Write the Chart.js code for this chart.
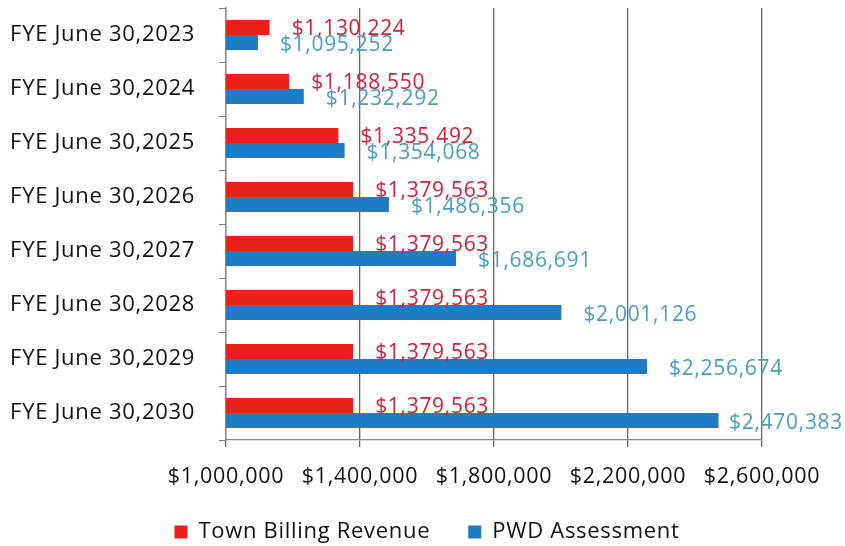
<!DOCTYPE html>
<html>
<head>
<meta charset="utf-8">
<script src="https://cdn.jsdelivr.net/npm/chart.js@4"></script>
<style>
  html, body { margin: 0; padding: 0; background: #fff; }
  #wrap { width: 845px; height: 546px; }
</style>
</head>
<body>
<div id="wrap"><canvas id="revChart"></canvas></div>
<script>
var years = ['FYE June 30,2023', 'FYE June 30,2024', 'FYE June 30,2025', 'FYE June 30,2026',
             'FYE June 30,2027', 'FYE June 30,2028', 'FYE June 30,2029', 'FYE June 30,2030'];
var townBilling = [1130224, 1188550, 1335492, 1379563, 1379563, 1379563, 1379563, 1379563];
var pwdAssessment = [1095252, 1232292, 1354068, 1486356, 1686691, 2001126, 2256674, 2470383];
var xTicks = [1000000, 1400000, 1800000, 2200000, 2600000];

var FONT = '"Open Sans", sans-serif';
var SPACING = '0.7px';

function money(v) {
    return '$' + v.toLocaleString('en-US');
}

// the source text is a bit wider than Open Sans, so open up the letters a little
var spacing = {
    id: 'spacing',
    beforeInit: function(chart) {
        // legend needs wide gaps between items but not that much height
        var origFit = chart.legend.fit;
        chart.legend.fit = function() {
            origFit.bind(chart.legend)();
            this.height = 56;
        };
    },
    afterLayout: function(chart) {
        // move the legend row to where the original has it
        var lg = chart.legend;
        lg.top = 483;
        lg.bottom = 546;
        lg.left = 9;
        lg.right = 845;
        lg.width = lg.right - lg.left;
    },
    beforeLayout: function(chart) { chart.ctx.letterSpacing = SPACING; },
    beforeDraw: function(chart) { chart.ctx.letterSpacing = SPACING; }
};

// value labels next to each bar
var barLabels = {
    id: 'barLabels',
    afterDatasetsDraw: function(chart) {
        var ctx = chart.ctx;
        ctx.save();
        ctx.font = '21px ' + FONT;
        ctx.letterSpacing = SPACING;
        ctx.textBaseline = 'middle';
        chart.data.datasets.forEach(function(ds, i) {
            var meta = chart.getDatasetMeta(i);
            meta.data.forEach(function(bar, j) {
                var txt = money(ds.data[j]);
                var w = ctx.measureText(txt).width;
                var x = Math.min(bar.x + 22, chart.width - w - 2);
                ctx.fillStyle = ds.labelColor;
                ctx.fillText(txt, x, bar.y + 2);
            });
        });
        ctx.restore();
    }
};

var ctx = document.getElementById('revChart').getContext('2d');
new Chart(ctx, {
    type: 'bar',
    data: {
        labels: years,
        datasets: [{
            label: 'Town Billing Revenue',
            data: townBilling,
            backgroundColor: '#e8211b',
            labelColor: '#d3203a',
            categoryPercentage: 0.56,
            barPercentage: 1.0
        }, {
            label: 'PWD Assessment',
            data: pwdAssessment,
            backgroundColor: '#1f7bc4',
            labelColor: '#4a9dc0',
            categoryPercentage: 0.56,
            barPercentage: 1.0
        }]
    },
    options: {
        indexAxis: 'y',
        responsive: true,
        maintainAspectRatio: false,
        animation: false,
        layout: { padding: { top: 8, right: 83, left: 0, bottom: 0 } },
        plugins: {
            tooltip: { enabled: false },
            legend: {
                position: 'bottom',
                labels: {
                    font: { family: FONT, size: 22 },
                    color: '#111',
                    boxWidth: 13,
                    boxHeight: 13,
                    padding: 38
                }
            }
        },
        scales: {
            x: {
                min: 1000000,
                max: 2600000,
                afterBuildTicks: function(scale) {
                    scale.ticks = xTicks.map(function(v) { return { value: v }; });
                },
                afterFit: function(scale) { scale.height = 50; },
                ticks: {
                    font: { family: FONT, size: 21.5 },
                    color: '#111',
                    padding: 17,
                    maxRotation: 0,
                    callback: function(v) { return money(v); }
                },
                grid: { color: '#666', lineWidth: 1.3, tickLength: 7 },
                border: { color: '#888', width: 1.3 }
            },
            y: {
                afterFit: function(scale) {
                    scale.width = 226;
                    scale.paddingTop = 0;
                    scale.paddingBottom = 0;
                },
                ticks: {
                    font: { family: FONT, size: 22 },
                    color: '#111',
                    padding: 24
                },
                grid: { drawOnChartArea: false, color: '#777', tickLength: 7, offset: true },
                border: { color: '#888', width: 1.3 }
            }
        }
    },
    plugins: [spacing, barLabels]
});
</script>
</body>
</html>
